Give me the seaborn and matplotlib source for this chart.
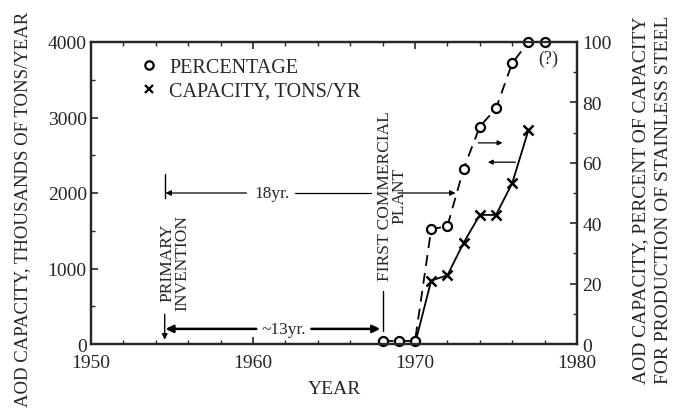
import matplotlib
matplotlib.use("Agg")
import matplotlib.pyplot as plt
import seaborn as sns
import pandas as pd
from matplotlib.lines import Line2D

# ---- data ----
pct_years = [1968, 1969, 1970, 1971, 1972, 1973, 1974, 1975, 1976, 1977, 1978]
pct_values = [1, 1, 1, 38, 39, 58, 72, 78, 93, 100, 100]
cap_years = [1968, 1969, 1970, 1971, 1972, 1973, 1974, 1975, 1976, 1977]
cap_values = [0, 0, 0, 840, 910, 1340, 1710, 1710, 2130, 2830]
x_ticks = [1950, 1960, 1970, 1980]
left_ticks = [0, 1000, 2000, 3000, 4000]
right_ticks = [0, 20, 40, 60, 80, 100]

sns.set_style("ticks")
plt.rcParams['font.family'] = ['Liberation Serif', 'DejaVu Serif']
plt.rcParams['axes.linewidth'] = 1.6

fig = plt.figure(figsize=(6.75, 4.14), dpi=100)
ax = fig.add_axes([91/675, 1-345/414, 486/675, 302/414])
ax2 = ax.twinx()

df_cap = pd.DataFrame({"year": cap_years, "cap": cap_values})
df_pct = pd.DataFrame({"year": pct_years, "pct": pct_values})

sns.lineplot(data=df_cap, x="year", y="cap", ax=ax, color="black", lw=1.3,
             marker="x", markersize=7, markeredgewidth=1.8, markeredgecolor="black")
sns.lineplot(data=df_pct, x="year", y="pct", ax=ax2, color="black", lw=1.3,
             dashes=False, linestyle=(0, (6, 4)), marker="o", markersize=6.5,
             markerfacecolor="white", markeredgecolor="black", markeredgewidth=1.6,
             clip_on=False)

ax.set_xlim(1950, 1980)
ax.set_ylim(0, 4000)
ax2.set_ylim(0, 100)
ax.set_xticks(x_ticks)
ax.set_xticks(range(1950, 1981, 2), minor=True)
ax.set_yticks(left_ticks)
ax.set_yticks(range(0, 4001, 500), minor=True)
ax2.set_yticks(right_ticks)
ax2.set_yticks(range(0, 101, 10), minor=True)

fs = 14
ax.tick_params(axis='x', which='both', direction='in', top=True, labelsize=fs, pad=7)
ax.tick_params(axis='y', which='both', direction='in', labelsize=fs, pad=3)
ax.tick_params(which='major', length=5, width=1.2)
ax.tick_params(which='minor', length=3, width=1.0)
ax2.tick_params(axis='y', which='both', direction='in', labelsize=fs, pad=4)
ax2.tick_params(which='major', length=5, width=1.2)
ax2.tick_params(which='minor', length=3, width=1.0)
for a in (ax, ax2):
    for s in a.spines.values():
        s.set_visible(True)
        s.set_linewidth(1.6)

ax.set_xlabel("YEAR", fontsize=fs)
ax.xaxis.set_label_coords(0.5, -0.12)
ax.set_ylabel("AOD CAPACITY, THOUSANDS OF TONS/YEAR", fontsize=13.5)
ax.yaxis.set_label_coords(-0.123, 0.45)
ax2.set_ylabel("AOD CAPACITY, PERCENT OF CAPACITY\nFOR PRODUCTION OF STAINLESS STEEL",
               fontsize=fs, linespacing=1.5)
ax2.yaxis.set_label_coords(1.113, 0.48)

# legend
handles = [Line2D([], [], ls='none', marker='o', mfc='white', mec='black', mew=1.6, ms=6),
           Line2D([], [], ls='none', marker='x', mec='black', mew=1.6, ms=6)]
ax.legend(handles, ["PERCENTAGE", "CAPACITY, TONS/YR"], loc='upper left',
          bbox_to_anchor=(0.086, 0.975), frameon=False, fontsize=14.5,
          handlelength=0.8, handletextpad=0.6, labelspacing=0.25, borderaxespad=0)

afs = 12.5
# primary invention
ax.plot([1954.55, 1954.55], [2250, 1930], color='black', lw=1.0)
ax.annotate('', xy=(1954.55, 20), xytext=(1954.55, 430),
            arrowprops=dict(arrowstyle='-|>', color='black', lw=1.0, mutation_scale=8))
ax.text(1955.2, 1086, "PRIMARY\nINVENTION", rotation=90, ha='center', va='center',
        fontsize=afs, linespacing=0.9)

# 18 yr
ax.annotate('', xy=(1954.6, 2000), xytext=(1959.6, 2000),
            arrowprops=dict(arrowstyle='-|>', color='black', lw=0.9, mutation_scale=8,
                            shrinkA=0, shrinkB=0))
ax.text(1961.2, 2000, "18yr.", ha='center', va='center', fontsize=afs)
ax.plot([1962.6, 1967.3], [2000, 2000], color='black', lw=0.9)
ax.annotate('', xy=(1972.5, 2000), xytext=(1968.95, 2000),
            arrowprops=dict(arrowstyle='-|>', color='black', lw=0.9, mutation_scale=8,
                            shrinkA=0, shrinkB=0))

# first commercial plant
ax.text(1968.6, 1970, "FIRST COMMERCIAL\nPLANT", rotation=90, ha='center', va='center',
        fontsize=afs, linespacing=0.9)
ax.plot([1968.0, 1968.0], [700, 170], color='black', lw=1.0)

# ~13 yr
ax.annotate('', xy=(1954.6, 200), xytext=(1960.2, 200),
            arrowprops=dict(arrowstyle='-|>', color='black', lw=1.8, mutation_scale=11,
                            shrinkA=0, shrinkB=0))
ax.text(1961.9, 200, "~13yr.", ha='center', va='center', fontsize=afs)
ax.annotate('', xy=(1967.85, 200), xytext=(1963.6, 200),
            arrowprops=dict(arrowstyle='-|>', color='black', lw=1.8, mutation_scale=11,
                            shrinkA=0, shrinkB=0))

# small arrows
ax2.annotate('', xy=(1975.4, 66.6), xytext=(1973.9, 66.6),
             arrowprops=dict(arrowstyle='-|>', color='black', lw=0.9, mutation_scale=7,
                             shrinkA=0, shrinkB=0))
ax2.annotate('', xy=(1974.5, 60.2), xytext=(1976.2, 60.2),
             arrowprops=dict(arrowstyle='-|>', color='black', lw=0.9, mutation_scale=7,
                             shrinkA=0, shrinkB=0))
ax2.text(1978.2, 94.5, "(?)", ha='center', va='center', fontsize=13)

fig.savefig("out.png", dpi=100)
